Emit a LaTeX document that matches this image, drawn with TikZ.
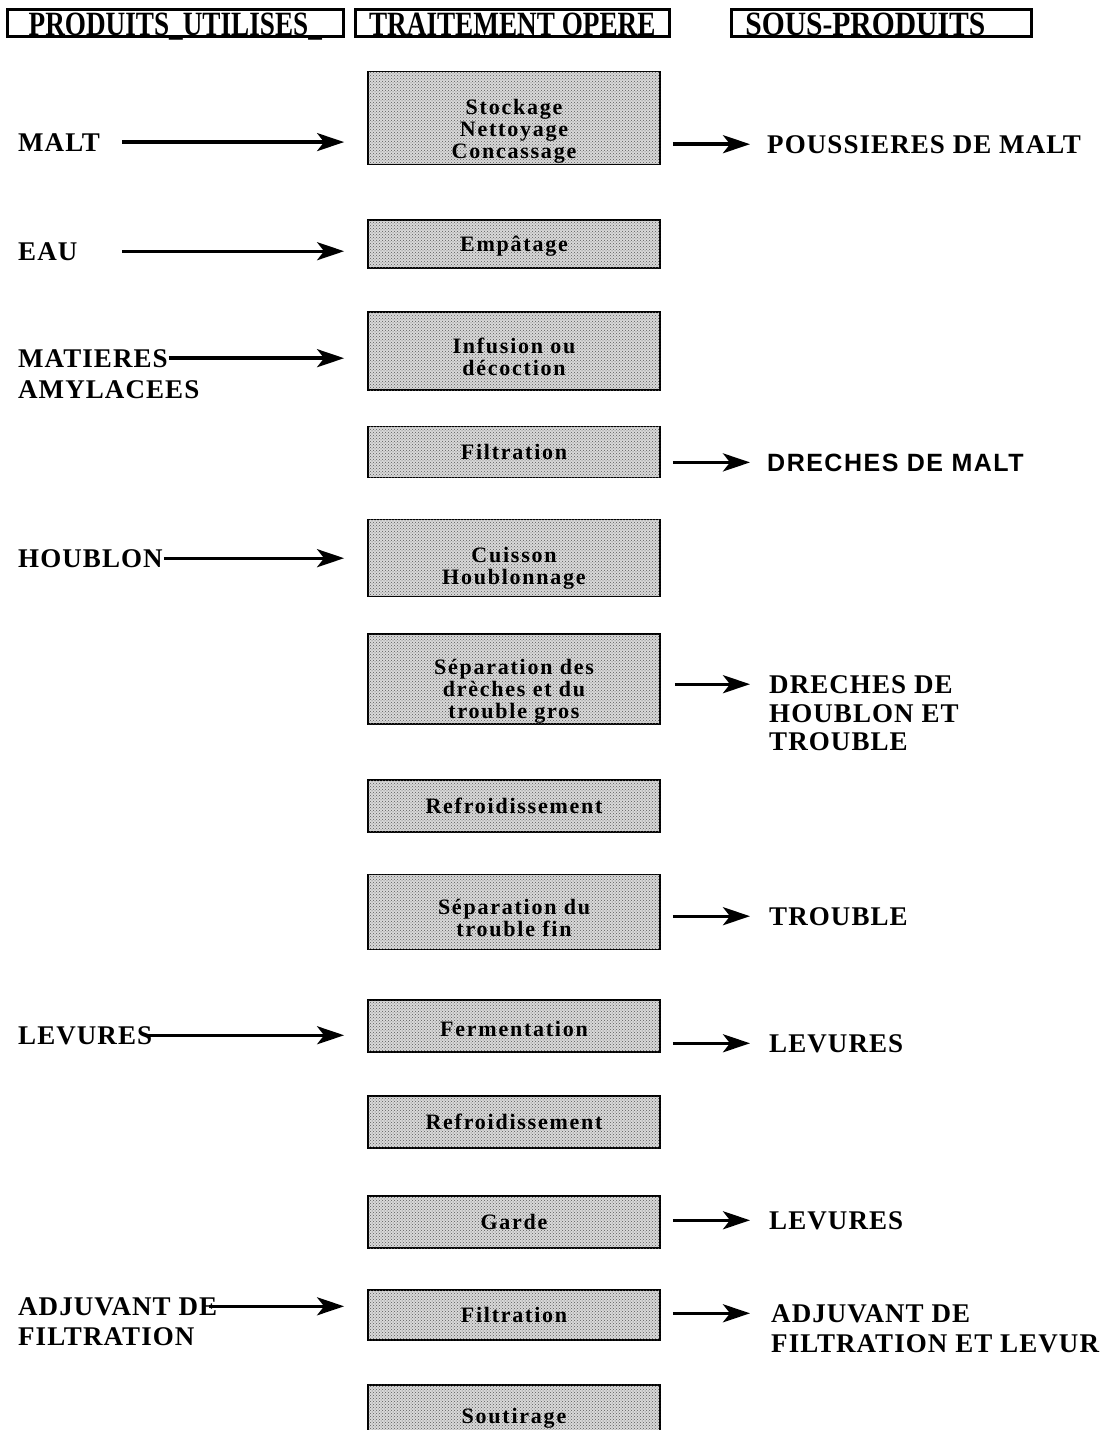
\documentclass[tikz,border=0pt]{standalone}
\usepackage{fontspec}
\setmainfont{Liberation Serif}
\newfontfamily\boxfont[LetterSpace=8]{Liberation Serif}
\newfontfamily\lblfont[LetterSpace=4]{Liberation Serif}
\newfontfamily\sansb[LetterSpace=6]{Liberation Sans}
\usetikzlibrary{arrows.meta,patterns,calc}
\newcommand\stagetext[2]{\raisebox{#1}[\height][\depth]{\begin{tabular}{@{}c@{}}#2\end{tabular}}}
\tikzset{
  stage/.style={draw, line width=1.8pt, fill=gray!30,
    postaction={pattern=crosshatch dots, pattern color=gray!70!black},
    minimum width=292pt, align=center,
    font=\boxfont\bfseries\fontsize{22}{22}\selectfont, inner sep=0pt},
  lbl/.style={anchor=base west, font=\lblfont\bfseries\fontsize{27}{30}\selectfont, inner sep=0pt},
  lbls/.style={anchor=base west, font=\sansb\bfseries\fontsize{25}{28}\selectfont, inner sep=0pt},
  arr/.style={line width=3.4pt, -{Stealth[length=27pt,width=18pt,inset=7pt]}},
  hdr/.style={draw, line width=2.6pt, anchor=south west, text height=26pt, text depth=1.5pt,
    inner ysep=0pt, font=\bfseries\fontsize{34}{36}\selectfont}
}
\begin{document}
\begin{tikzpicture}[x=1pt,y=-1pt]
\useasboundingbox (0,0) rectangle (1112,1430);
\clip (0,0) rectangle (1112,1430);
% headers
\node[hdr, minimum width=336pt] (h1) at (6,38) {\scalebox{0.8}[1]{PRODUITS\_UTILISES\_}};
\node[hdr, minimum width=314pt] (h2) at (354,38) {\scalebox{0.8}[1]{TRAITEMENT OPERE}};
\node[hdr, text width=272pt, align=left, inner xsep=14pt] (h3) at (730,38) {\scalebox{0.87}[1]{SOUS-PRODUITS}};
% stages
\node[stage, minimum height=93pt] (b1) at (514,118) {\stagetext{-14pt}{Stockage\\Nettoyage\\Concassage}};
\node[stage, minimum height=48pt] (b2) at (514,244) {\stagetext{-3pt}{Empâtage}};
\node[stage, minimum height=78pt] (b3) at (514,351) {\stagetext{-9pt}{Infusion ou\\décoction}};
\node[stage, minimum height=51pt] (b4) at (514,452) {\stagetext{-3pt}{Filtration}};
\node[stage, minimum height=77pt] (b5) at (514,558) {\stagetext{-11pt}{Cuisson\\Houblonnage}};
\node[stage, minimum height=90pt] (b6) at (514,679) {\stagetext{-13pt}{Séparation des\\drèches et du\\trouble gros}};
\node[stage, minimum height=52pt] (b7) at (514,806) {\stagetext{-3pt}{Refroidissement}};
\node[stage, minimum height=75pt] (b8) at (514,912) {\stagetext{-9pt}{Séparation du\\trouble fin}};
\node[stage, minimum height=52pt] (b9) at (514,1026) {\stagetext{-6pt}{Fermentation}};
\node[stage, minimum height=52pt] (b10) at (514,1122) {\stagetext{-3pt}{Refroidissement}};
\node[stage, minimum height=52pt] (b11) at (514,1222) {\stagetext{-3pt}{Garde}};
\node[stage, minimum height=50pt] (b12) at (514,1315) {\stagetext{-3pt}{Filtration}};
\node[stage, minimum height=62pt, anchor=north] (b13) at (514,1384) {\stagetext{-3pt}{Soutirage}};
% left labels
\node[lbl] (malt) at (18,151) {MALT};
\node[lbl] (eau) at (18,260) {EAU};
\node[lbl] (mat) at (18,367) {MATIERES};
\node[lbl] (amy) at (18,398) {AMYLACEES};
\node[lbl] (houb) at (18,567) {HOUBLON};
\node[lbl] (lev) at (18,1044) {LEVURES};
\node[lbl] (adj) at (18,1315) {ADJUVANT DE};
\node[lbl] (filt) at (18,1345) {FILTRATION};
% right labels
\node[lbl] (pous) at (767,153) {POUSSIERES DE MALT};
\node[lbls] (drm) at (767,471) {DRECHES DE MALT};
\node[lbl] (drh1) at (769,693) {DRECHES DE};
\node[lbl] (drh2) at (769,722) {HOUBLON ET};
\node[lbl] (drh3) at (769,750) {TROUBLE};
\node[lbl] (trb) at (769,925) {TROUBLE};
\node[lbl] (lev2) at (769,1052) {LEVURES};
\node[lbl] (lev3) at (769,1229) {LEVURES};
\node[lbl] (adj2) at (771,1322) {ADJUVANT DE};
\node[lbl] (adj3) at (771,1352) {FILTRATION ET LEVUR};
% left arrows
\draw[arr, shorten >=23pt] ($(malt.east)+(22,0)$) -- (malt.east -| b1.west);
\draw[arr, shorten >=23pt] ($(eau.east -| malt.east)+(22,0)$) -- (eau.east -| b2.west);
\draw[arr, shorten <=1pt, shorten >=23pt] (mat.east) -- (mat.east -| b3.west);
\draw[arr, shorten <=1pt, shorten >=23pt] (houb.east) -- (houb.east -| b5.west);
\draw[arr, shorten <=-6pt, shorten >=23pt] (lev.east) -- (lev.east -| b9.west);
\draw[arr, shorten <=-8pt, shorten >=23pt] (adj.east) -- (adj.east -| b12.west);
% right arrows
\draw[arr, shorten <=12pt, shorten >=17pt] (pous.west -| b1.east) -- (pous.west);
\draw[arr, shorten <=12pt, shorten >=17pt] (drm.west -| b4.east) -- (drm.west);
\draw[arr, shorten <=14pt, shorten >=19pt] (drh1.west -| b6.east) -- (drh1.west);
\draw[arr, shorten <=12pt, shorten >=19pt] (trb.west -| b8.east) -- (trb.west);
\draw[arr, shorten <=12pt, shorten >=19pt] (lev2.west -| b9.east) -- (lev2.west);
\draw[arr, shorten <=12pt, shorten >=19pt] (lev3.west -| b11.east) -- (lev3.west);
\draw[arr, shorten <=12pt, shorten >=21pt] (adj2.west -| b12.east) -- (adj2.west);
\end{tikzpicture}
\end{document}
